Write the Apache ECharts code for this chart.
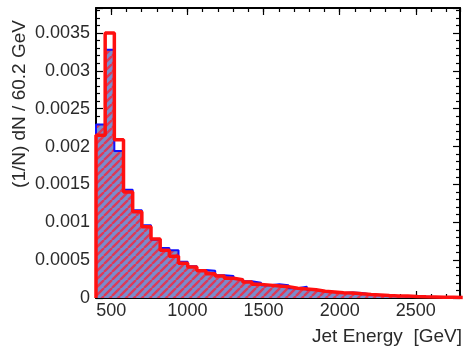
<!DOCTYPE html>
<html>
<head>
<meta charset="utf-8">
<script src="https://cdn.jsdelivr.net/npm/echarts@6/dist/echarts.min.js"></script>
<style>
  html, body { margin: 0; padding: 0; background: #ffffff; }
  #chart { width: 464px; height: 347px; }
</style>
</head>
<body>
<div id="chart"></div>
<script>
// Histogram binning (GeV)
const binStart = 400;
const binWidth = 60.2;

// Normalised jet-energy distributions, one value per bin
const blueValues = [
  0.00229, 0.00328, 0.00194, 0.00143, 0.00116, 0.00096, 0.00077, 0.00066, 0.00063, 0.00048,
  0.00042, 0.00037, 0.00036, 0.00030, 0.00029, 0.00025, 0.00022, 0.00020, 0.00017, 0.00018,
  0.00017, 0.00013, 0.00015, 0.00011, 0.000090, 0.000080, 0.000066, 0.000072, 0.000065, 0.000046,
  0.000038, 0.000033, 0.000026, 0.000022, 0.000017, 0.000015, 0.000012, 0.000010, 0.000008, 0.000006
];
const redValues = [
  0.00215, 0.00350, 0.00209, 0.00140, 0.00114, 0.00094, 0.00078, 0.00063, 0.00055, 0.00046,
  0.00041, 0.00036, 0.00032, 0.00029, 0.00026, 0.00024, 0.00021, 0.00018, 0.00017, 0.00016,
  0.00015, 0.00013, 0.00012, 0.00011, 0.000090, 0.000080, 0.000068, 0.000065, 0.000055, 0.000046,
  0.000040, 0.000033, 0.000028, 0.000026, 0.000020, 0.000016, 0.000014, 0.000010, 0.000009, 0.000008
];

// Axis ticks
const xMajorTicks = [500, 1000, 1500, 2000, 2500];
const yTickLabels = [0, 0.0005, 0.001, 0.0015, 0.002, 0.0025, 0.003, 0.0035];

const xMin = 400, xMax = 2790;
const yMin = 0, yMax = 0.00383;

// Turn per-bin values into the outline of a step histogram
function stepPoints(values) {
  const end = binStart + values.length * binWidth;
  const pts = [[binStart, 0]];
  values.forEach((v, i) => pts.push([binStart + i * binWidth, v]));
  pts.push([end, values[values.length - 1]]);
  pts.push([end, 0]);
  return pts;
}

// Diagonal hatch tile used to fill the blue histogram
function hatchTile() {
  const s = 8;
  const c = document.createElement('canvas');
  c.width = s; c.height = s;
  const g = c.getContext('2d');
  g.fillStyle = '#7a8ccc';
  g.fillRect(0, 0, s, s);
  g.strokeStyle = '#dc3a58';
  g.lineWidth = 2.4;
  g.beginPath();
  for (const o of [-s, 0, s]) { g.moveTo(o, s); g.lineTo(o + s, 0); }
  g.stroke();
  return c;
}

const font = '"Liberation Sans", Arial, Helvetica, sans-serif';
const frame = { show: true, lineStyle: { color: '#000', width: 2 } };
const tickStyle = { color: '#000', width: 1.2 };

function xAxisPair(position, withLabels) {
  return [
    {
      type: 'value', min: xMin, max: xMax, position: position,
      axisLine: frame,
      axisTick: { show: true, inside: true, length: 7, customValues: xMajorTicks, lineStyle: tickStyle },
      axisLabel: withLabels
        ? {
            show: true, customValues: xMajorTicks, fontFamily: font, fontSize: 18, color: '#2a2a2a', margin: 4,
            formatter: v => String(v)
          }
        : { show: false },
      splitLine: { show: false }
    },
    {
      type: 'value', min: xMin, max: xMax, interval: 100, position: position,
      axisLine: { show: false },
      axisTick: { show: true, inside: true, length: 4, lineStyle: tickStyle },
      axisLabel: { show: false },
      splitLine: { show: false }
    }
  ];
}

function yAxisDef(position, withLabels) {
  return {
    type: 'value', min: yMin, max: yMax, interval: 0.0005, position: position,
    axisLine: frame,
    axisTick: { show: true, inside: true, length: 7, lineStyle: tickStyle },
    minorTick: { show: true, splitNumber: 5, length: 4, lineStyle: tickStyle },
    axisLabel: withLabels
      ? {
          show: true, showMaxLabel: false, fontFamily: font, fontSize: 18, color: '#2a2a2a', margin: 6,
          formatter: v => {
            const hit = yTickLabels.find(t => Math.abs(t - v) < 1e-9);
            return hit === undefined ? '' : String(hit);
          }
        }
      : { show: false },
    splitLine: { show: false },
    minorSplitLine: { show: false }
  };
}

const chart = echarts.init(document.getElementById('chart'), null, { renderer: 'canvas' });
chart.setOption({
  animation: false,
  backgroundColor: '#ffffff',
  grid: { left: 96, right: 4, top: 8, bottom: 49, containLabel: false },
  xAxis: [...xAxisPair('bottom', true), ...xAxisPair('top', false)],
  yAxis: [yAxisDef('left', true), yAxisDef('right', false)],
  series: [
    {
      name: 'blue', type: 'line', step: 'end', xAxisIndex: 0, yAxisIndex: 0,
      data: stepPoints(blueValues), symbol: 'none', clip: true,
      lineStyle: { color: '#1010ff', width: 2 },
      areaStyle: { color: { image: hatchTile(), repeat: 'repeat' }, opacity: 1 },
      z: 2
    },
    {
      name: 'red', type: 'line', step: 'end', xAxisIndex: 0, yAxisIndex: 0,
      data: stepPoints(redValues), symbol: 'none', clip: true,
      lineStyle: { color: '#ff1010', width: 3.5 },
      z: 3
    }
  ],
  graphic: [
    {
      type: 'text', x: 20, y: 104, rotation: Math.PI / 2,
      style: { text: '(1/N) dN / 60.2 GeV', font: '19px ' + font, fill: '#2a2a2a', align: 'center', verticalAlign: 'middle' }
    },
    {
      type: 'text', x: 462, y: 337,
      style: { text: 'Jet Energy  [GeV]', font: '19px ' + font, fill: '#2a2a2a', align: 'right', verticalAlign: 'middle' }
    }
  ]
});
</script>
</body>
</html>
